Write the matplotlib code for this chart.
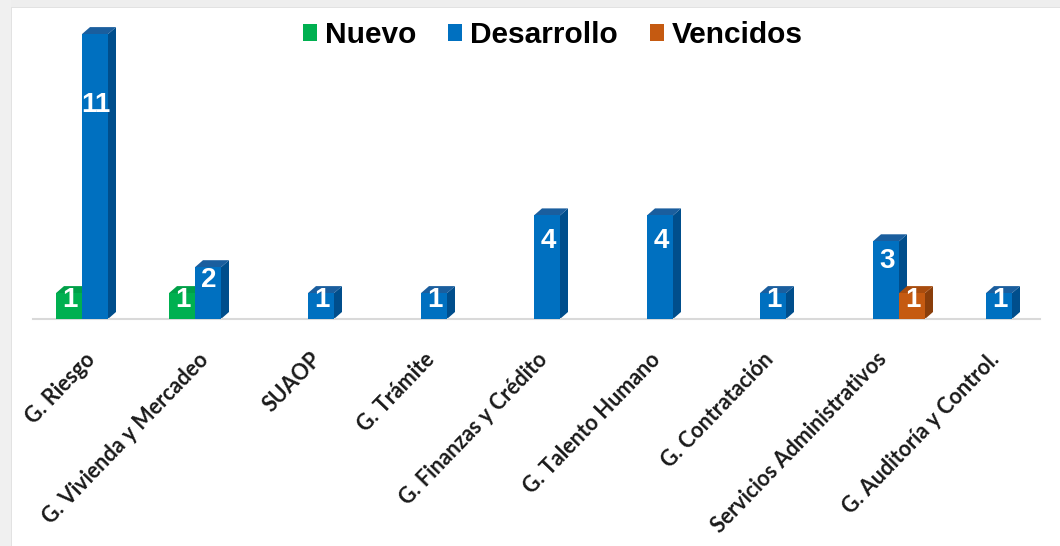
import matplotlib
matplotlib.use("Agg")
import matplotlib.pyplot as plt
from matplotlib.patches import Polygon, Rectangle, Patch
from matplotlib.transforms import offset_copy

categories = ["G. Riesgo", "G. Vivienda y Mercadeo", "SUAOP", "G. Trámite",
              "G. Finanzas y Crédito", "G. Talento Humano", "G. Contratación",
              "Servicios Administrativos", "G. Auditoría y Control."]
series_names = ["Nuevo", "Desarrollo", "Vencidos"]
nuevo = [1, 1, 0, 0, 0, 0, 0, 0, 0]
desarrollo = [11, 2, 1, 1, 4, 4, 1, 3, 1]
vencidos = [0, 0, 0, 0, 0, 0, 0, 1, 0]

front_colors = ["#00B050", "#0070C0", "#C55A11"]
side_colors = ["#00843C", "#004E8C", "#8A3E0B"]
top_colors = ["#00A048", "#1A5E9E", "#A84C0E"]

W, H = 1060, 546
fig = plt.figure(figsize=(W / 100, H / 100), dpi=100)
fig.patch.set_facecolor("white")

# light grey frame (screenshot border)
fig.patches.append(Rectangle((0, 1 - 7 / H), 1, 7 / H, transform=fig.transFigure,
                             facecolor="#eeeeee", edgecolor="none", zorder=0))
fig.patches.append(Rectangle((0, 0), 11 / W, 1, transform=fig.transFigure,
                             facecolor="#f0f0f0", edgecolor="none", zorder=0))
fig.patches.append(Rectangle((11 / W, 0), 1.2 / W, 1 - 7 / H, transform=fig.transFigure,
                             facecolor="#e2e2e2", edgecolor="none", zorder=0))
fig.patches.append(Rectangle((11 / W, 1 - 8 / H), 1 - 11 / W, 1.2 / H, transform=fig.transFigure,
                             facecolor="#e2e2e2", edgecolor="none", zorder=0))

base_px = 319
ax_left, ax_right, ax_top = 33, 1040, 8
ax = fig.add_axes([ax_left / W, (H - base_px) / H, (ax_right - ax_left) / W,
                   (base_px - ax_top) / H])
ax.set_facecolor("none")
unit_px = 25.9
group_px = 113.0
ax.set_xlim((ax_left - 95) / group_px, (ax_right - 95) / group_px)
ax.set_ylim(0, (base_px - ax_top) / unit_px)

for s in ["top", "right", "left"]:
    ax.spines[s].set_visible(False)
ax.spines["bottom"].set_color("#d9d9d9")
ax.spines["bottom"].set_linewidth(1.5)
ax.set_yticks([])
ax.set_xticks([])

bw = 26 / group_px
dx = 8 / group_px
dy = 7 / unit_px
all_series = [nuevo, desarrollo, vencidos]
offsets = [-bw, 0, bw]
for si, vals in enumerate(all_series):
    xs = [i + offsets[si] for i in range(len(categories))]
    hs = [v for v in vals]
    bars = ax.bar(xs, hs, width=bw, color=front_colors[si], edgecolor="none", zorder=3)
    for b, v in zip(bars, vals):
        if v <= 0:
            continue
        x0 = b.get_x()
        x1 = x0 + b.get_width()
        side = Polygon([(x1, 0), (x1 + dx, dy), (x1 + dx, v + dy), (x1, v)],
                       closed=True, facecolor=side_colors[si], edgecolor="none", zorder=2)
        top = Polygon([(x0, v), (x0 + dx, v + dy), (x1 + dx, v + dy), (x1, v)],
                      closed=True, facecolor=top_colors[si], edgecolor="none", zorder=2)
        ax.add_patch(side)
        ax.add_patch(top)
        ax.text(x0 + b.get_width() / 2 + 1 / group_px, v * 0.75, str(v), color="white",
                fontsize=20, fontweight="bold", family=["Liberation Sans", "DejaVu Sans"],
                ha="center", va="center", zorder=5)

lab_tr = offset_copy(ax.transData, fig=fig, x=-3, y=-37, units="dots")
for i, c in enumerate(categories):
    ax.text(i, 0, c, transform=lab_tr, rotation=46, rotation_mode="anchor",
            ha="right", va="center", fontsize=15.5, fontweight="bold",
            family=["Lato", "DejaVu Sans"], color="#1a1a1a")

handles = [Patch(facecolor=front_colors[k], edgecolor="none") for k in range(3)]
leg = fig.legend(handles, series_names, loc="center", ncol=3, frameon=False,
                 bbox_to_anchor=(553 / W, 1 - 35 / H),
                 prop={"family": ["Liberation Sans", "DejaVu Sans"], "weight": "bold", "size": 21.5},
                 handlelength=0.47, handleheight=0.5, handletextpad=0.27,
                 columnspacing=1.07, borderpad=0)

fig.savefig("out.png", dpi=100, facecolor=fig.get_facecolor())
